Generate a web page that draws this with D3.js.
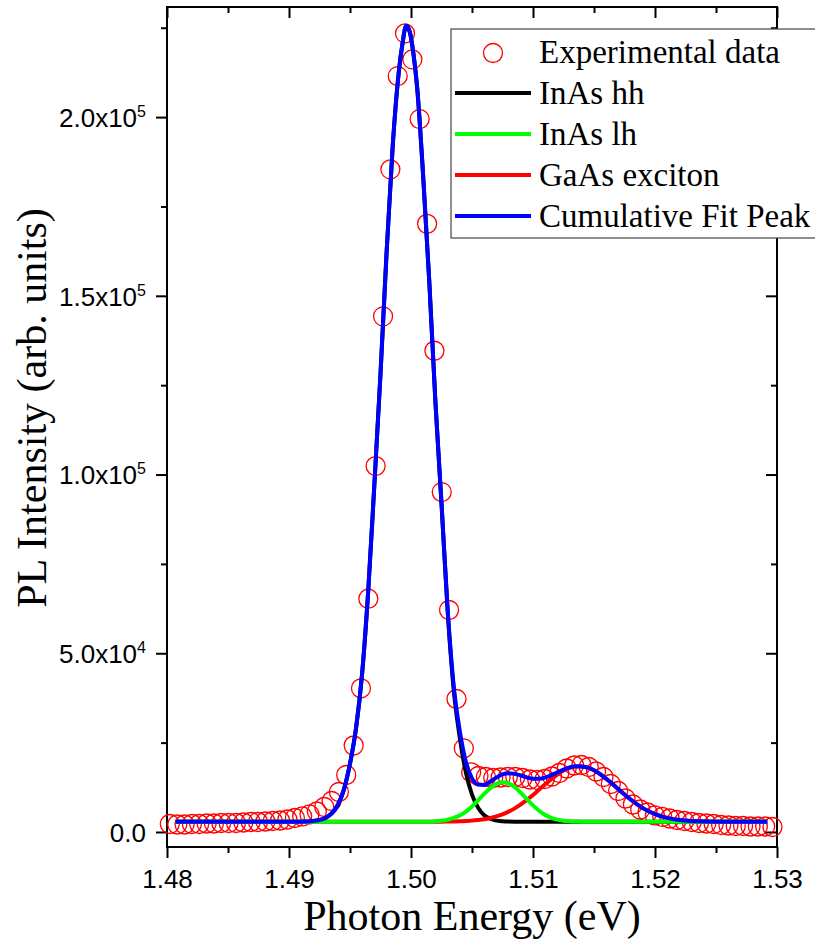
<!DOCTYPE html>
<html>
<head>
<meta charset="utf-8">
<script src="https://cdn.jsdelivr.net/npm/d3@7"></script>
<style>
  body { margin: 0; background: #fff; }
  svg { display: block; background: #fff; }
  .tick line { stroke: #000; stroke-width: 2; }
  .tick text { font-family: "Liberation Sans", Arial, sans-serif; font-size: 26px; fill: #000; }
</style>
</head>
<body>
<svg id="chart" width="815" height="949"></svg>
<script>
// ---------- data ----------
const expEnergy = [
  1.48023, 1.48084, 1.48144, 1.48204, 1.48264, 1.48325, 1.48385, 1.48445, 1.48505, 1.48566,
  1.48626, 1.48686, 1.48746, 1.48807, 1.48867, 1.48927, 1.48987, 1.49048, 1.49108, 1.49168,
  1.49228, 1.49289, 1.49349, 1.49409, 1.49469, 1.49530, 1.49590, 1.49650, 1.49710, 1.49771,
  1.49831, 1.49891, 1.49951, 1.50011, 1.50071, 1.50132, 1.50192, 1.50252, 1.50312, 1.50373,
  1.50433, 1.50493, 1.50553, 1.50614, 1.50674, 1.50734, 1.50794, 1.50855, 1.50915, 1.50975,
  1.51035, 1.51096, 1.51156, 1.51216, 1.51276, 1.51337, 1.51397, 1.51457, 1.51517, 1.51578,
  1.51638, 1.51698, 1.51758, 1.51819, 1.51879, 1.51939, 1.51999, 1.52060, 1.52120, 1.52180,
  1.52240, 1.52301, 1.52361, 1.52421, 1.52481, 1.52542, 1.52602, 1.52662, 1.52722, 1.52783,
  1.52843, 1.52903, 1.52963
];
const expIntensity = [
  2240, 2100, 2100, 2240, 2240, 2380, 2380, 2520, 2520, 2520,
  2660, 2800, 2800, 2940, 3080, 3220, 3500, 3920, 4340, 4900,
  5730, 6990, 8670, 11190, 15940, 24200, 40200, 65260, 102380, 144250,
  185370, 211470, 223410, 216140, 199440, 170150, 134630, 95100, 62100, 37200,
  23410, 16700, 15660, 15380, 15100, 15240, 15380, 15380, 15100, 14690,
  14550, 14830, 15520, 16500, 17760, 18600, 18740, 18180, 16920, 15380,
  13430, 11470, 9370, 7690, 6290, 5450, 4620, 4200, 3780, 3360,
  3080, 2800, 2520, 2380, 2240, 1960, 1820, 1680, 1680, 1540,
  1540, 1540, 1400
];

const fitEnergy = [
  1.4807, 1.482, 1.484, 1.486, 1.488, 1.490, 1.491, 1.492, 1.4925, 1.493,
  1.4935, 1.494, 1.4945, 1.495, 1.4955, 1.496, 1.4965, 1.497, 1.4975, 1.498,
  1.4985, 1.499, 1.4993, 1.4996, 1.4999, 1.5002, 1.5005, 1.501, 1.5015, 1.502,
  1.5025, 1.503, 1.5035, 1.504, 1.5045, 1.505, 1.5055, 1.506, 1.5065, 1.507,
  1.5075, 1.508, 1.5085, 1.509, 1.5095, 1.510, 1.5105, 1.511, 1.5115, 1.512,
  1.5125, 1.513, 1.5135, 1.514, 1.5145, 1.515, 1.5155, 1.516, 1.5165, 1.517,
  1.5175, 1.518, 1.519, 1.520, 1.521, 1.522, 1.524, 1.526, 1.528, 1.5292
];
const fitHH = [
  2880, 2880, 2880, 2880, 2880, 2880, 2880, 3076, 3355, 3943,
  5174, 7551, 11859, 19103, 29172, 44555, 67770, 97419, 128186, 162198,
  191847, 212655, 220487, 225522, 223843, 217690, 208460, 183286, 153918, 120354,
  91825, 61897, 39800, 26375, 16585, 10432, 6796, 4698, 3691, 3188,
  2992, 2908, 2880, 2880, 2880, 2880, 2880, 2880, 2880, 2880,
  2880, 2880, 2880, 2880, 2880, 2880, 2880, 2880, 2880, 2880,
  2880, 2880, 2880, 2880, 2880, 2880, 2880, 2880, 2880, 2880
];
const fitLH = [
  2880, 2880, 2880, 2880, 2880, 2880, 2880, 2880, 2880, 2880,
  2880, 2880, 2880, 2880, 2880, 2880, 2880, 2880, 2880, 2880,
  2880, 2880, 2880, 2880, 2880, 2880, 2880, 2880, 2880, 3020,
  3160, 3411, 3915, 4642, 5705, 7131, 8866, 10656, 12278, 13453,
  13928, 13593, 12530, 10963, 9173, 7439, 5929, 4754, 3971, 3467,
  3160, 3020, 2936, 2880, 2880, 2880, 2880, 2880, 2880, 2880,
  2880, 2880, 2880, 2880, 2880, 2880, 2880, 2880, 2880, 2880
];
const fitGaAs = [
  2880, 2880, 2880, 2880, 2880, 2880, 2880, 2880, 2880, 2880,
  2880, 2880, 2880, 2880, 2880, 2880, 2880, 2880, 2880, 2880,
  2880, 2880, 2880, 2880, 2880, 2880, 2880, 2880, 2880, 2880,
  2880, 2919, 2950, 2992, 3070, 3179, 3355, 3579, 3915, 4362,
  4950, 5705, 6600, 7719, 8978, 10348, 11858, 13341, 14795, 16082,
  17173, 17928, 18348, 18348, 17984, 17257, 16194, 14907, 13481, 11970,
  10488, 9089, 6684, 5006, 3943, 3355, 2953, 2880, 2880, 2880
];
const fitCumulative = [
  2880, 2880, 2880, 2880, 2880, 2880, 2880, 3076, 3355, 3943,
  5174, 7551, 11859, 19103, 29172, 44555, 67770, 97419, 128186, 162198,
  191847, 212655, 220487, 225522, 223843, 217690, 208460, 183286, 153918, 120494,
  92104, 62456, 40892, 28249, 19606, 14991, 13257, 13173, 14124, 15243,
  16110, 16445, 16250, 15802, 15271, 14907, 14907, 15215, 15886, 16669,
  17452, 18068, 18403, 18348, 17984, 17257, 16194, 14907, 13481, 11970,
  10488, 9089, 6684, 5006, 3943, 3355, 2953, 2880, 2880, 2880
];

const legendNames = ["Experimental data", "InAs hh", "InAs lh", "GaAs exciton", "Cumulative Fit Peak"];

const xTicks = [1.48, 1.49, 1.50, 1.51, 1.52, 1.53];
const xMinor = [1.485, 1.495, 1.505, 1.515, 1.525];
const yTicks = [0, 5e4, 1e5, 1.5e5, 2e5];
const yTickMant = ["0.0", "5.0x10", "1.0x10", "1.5x10", "2.0x10"];
const yTickExp = ["", "4", "5", "5", "5"];
const yMinor = [2.5e4, 7.5e4, 1.25e5, 1.75e5, 2.25e5];

// ---------- layout ----------
const svg = d3.select("#chart");
const margin = {top: 7, right: 38, bottom: 102, left: 167};
const width = 815 - margin.left - margin.right;   // 610
const height = 949 - margin.top - margin.bottom;  // 840

const x = d3.scaleLinear().domain([1.48, 1.53]).range([0, width]);
const y = d3.scaleLinear().domain([-4200, 230800]).range([height, 0]);

const g = svg.append("g")
    .attr("transform", "translate(" + margin.left + "," + margin.top + ")");

// frame
g.append("rect")
    .attr("width", width)
    .attr("height", height)
    .attr("fill", "none")
    .attr("stroke", "#000")
    .attr("stroke-width", 2);

// left axis (outward ticks) with superscript labels
const yAxisG = g.append("g")
    .call(d3.axisLeft(y).tickValues(yTicks).tickSize(11).tickSizeOuter(0).tickPadding(10)
        .tickFormat((d, i) => yTickMant[i]));
yAxisG.selectAll(".tick text").each(function (d, i) {
    const t = d3.select(this).text(null).attr("dy", "0.36em");
    t.append("tspan").text(yTickMant[i]);
    if (yTickExp[i]) {
        t.append("tspan").attr("dy", "-0.62em").attr("font-size", "16px").text(yTickExp[i]);
    }
});
g.append("g")
    .call(d3.axisLeft(y).tickValues(yMinor).tickSize(6).tickSizeOuter(0).tickFormat(""));

// right axis (inward ticks)
g.append("g").attr("transform", "translate(" + width + ",0)")
    .call(d3.axisRight(y).tickValues(yTicks).tickSize(-11).tickSizeOuter(0).tickFormat(""));
g.append("g").attr("transform", "translate(" + width + ",0)")
    .call(d3.axisRight(y).tickValues(yMinor).tickSize(-6).tickSizeOuter(0).tickFormat(""));

// bottom axis (outward ticks)
g.append("g").attr("transform", "translate(0," + height + ")")
    .call(d3.axisBottom(x).tickValues(xTicks).tickSize(11).tickSizeOuter(0).tickPadding(12)
        .tickFormat(d3.format(".2f")));
g.append("g").attr("transform", "translate(0," + height + ")")
    .call(d3.axisBottom(x).tickValues(xMinor).tickSize(6).tickSizeOuter(0).tickFormat(""));

// top axis (inward ticks)
g.append("g")
    .call(d3.axisTop(x).tickValues(xTicks).tickSize(-11).tickSizeOuter(0).tickFormat(""));
g.append("g")
    .call(d3.axisTop(x).tickValues(xMinor).tickSize(-6).tickSizeOuter(0).tickFormat(""));

g.selectAll(".domain").remove();

// experimental data
g.append("g").selectAll("circle")
    .data(d3.zip(expEnergy, expIntensity))
    .join("circle")
    .attr("cx", d => x(d[0]))
    .attr("cy", d => y(d[1]))
    .attr("r", 9.5)
    .attr("fill", "none")
    .attr("stroke", "#ff0000")
    .attr("stroke-width", 1.3);

// fit curves
const line = d3.line()
    .x(d => x(d[0]))
    .y(d => y(d[1]))
    .curve(d3.curveMonotoneX);

const fits = [
    {vals: fitHH, color: "#000000"},
    {vals: fitGaAs, color: "#ff0000"},
    {vals: fitLH, color: "#00ff00"},
    {vals: fitCumulative, color: "#0000ff"}
];
fits.forEach(f => {
    g.append("path")
        .datum(d3.zip(fitEnergy, f.vals))
        .attr("d", line)
        .attr("fill", "none")
        .attr("stroke", f.color)
        .attr("stroke-width", 4)
        .attr("stroke-linejoin", "round");
});

// axis titles
svg.append("text")
    .attr("x", margin.left + width / 2)
    .attr("y", 930)
    .attr("text-anchor", "middle")
    .style("font-family", '"Liberation Serif", "Times New Roman", serif')
    .style("font-size", "42px")
    .text("Photon Energy (eV)");

svg.append("text")
    .attr("transform", "translate(46,408) rotate(-90)")
    .attr("text-anchor", "middle")
    .style("font-family", '"Liberation Serif", "Times New Roman", serif')
    .style("font-size", "42px")
    .text("PL Intensity (arb. units)");

// legend
const legend = svg.append("g");
legend.append("rect")
    .attr("x", 451).attr("y", 29)
    .attr("width", 420).attr("height", 209)
    .attr("fill", "#fff")
    .attr("stroke", "#444")
    .attr("stroke-width", 1.2);

const legendColors = ["#ff0000", "#000000", "#00ff00", "#ff0000", "#0000ff"];
legendNames.forEach((name, i) => {
    const base = 63 + i * 41;
    if (i === 0) {
        legend.append("circle")
            .attr("cx", 493).attr("cy", base - 10).attr("r", 9.5)
            .attr("fill", "none").attr("stroke", legendColors[i]).attr("stroke-width", 1.3);
    } else {
        legend.append("line")
            .attr("x1", 455).attr("x2", 531)
            .attr("y1", base - 11).attr("y2", base - 11)
            .attr("stroke", legendColors[i]).attr("stroke-width", 4);
    }
    legend.append("text")
        .attr("x", 539).attr("y", base)
        .style("font-family", '"Liberation Serif", "Times New Roman", serif')
        .style("font-size", "33px")
        .text(name);
});
</script>
</body>
</html>
